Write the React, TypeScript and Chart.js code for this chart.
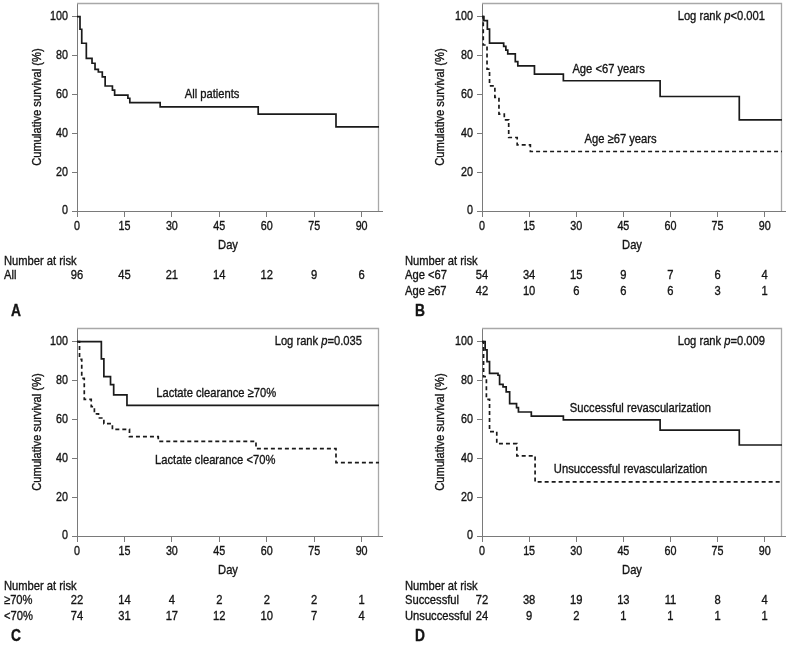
import React, { useEffect, useRef } from "react";
import { Chart, registerables } from "chart.js";

Chart.register(...registerables);

// ---------- data ----------
const xTicks = [0, 15, 30, 45, 60, 75, 90];
const yTicks = [0, 20, 40, 60, 80, 100];
const X_MAX = 95.5;
const Y_MAX = 107;

// Panel A: all patients
const allTimes = [0, 0.95, 1.5, 2.95, 4.75, 5.7, 6.75, 8.0, 8.9, 11.2, 11.9, 16.1, 16.7, 26.3, 57.3, 81.9, 96];
const allSurv = [100, 93.5, 86.3, 78.5, 76, 72.9, 71.5, 69, 64.3, 62.2, 59.6, 58, 55.7, 53.6, 49.8, 43.3, 43.3];

// Panel B: age
const ageLtTimes = [0, 0.6, 1.7, 2.4, 6.9, 7.6, 8.2, 10.6, 11.4, 16.7, 25.9, 56.7, 81.9, 96];
const ageLtSurv = [100, 97.9, 93.6, 86.4, 84.7, 82.8, 80.8, 76.8, 74.7, 70.4, 67, 58.9, 46.9, 46.9];
const ageGeTimes = [0, 0.4, 1.6, 2.4, 4.1, 5.4, 7.1, 8.5, 11.2, 15.4, 96];
const ageGeSurv = [100, 85.4, 73, 64.4, 58.4, 49.8, 46.9, 37.8, 34, 30.6, 30.6];

// Panel C: lactate clearance
const lacHiTimes = [0, 7.7, 8.5, 10.6, 11.6, 15.8, 96];
const lacHiSurv = [100, 91.1, 82, 77.9, 72.6, 67.2, 67.2];
const lacLoTimes = [0, 0.8, 1.5, 2.3, 4.5, 5.5, 6.8, 8.5, 11.2, 16.6, 25.7, 56.6, 81.9, 96];
const lacLoSurv = [100, 90.9, 81.1, 70.3, 66.6, 62.8, 60.7, 57.8, 54.9, 51.1, 48.7, 44.9, 37.7, 37.7];

// Panel D: revascularization
const revOkTimes = [0, 1.0, 1.6, 2.4, 5.1, 5.6, 6.7, 7.7, 8.8, 11.0, 11.6, 15.7, 25.9, 56.7, 81.9, 96];
const revOkSurv = [100, 95.7, 89.7, 83.7, 82.7, 78, 76.7, 74.1, 68.1, 66, 63.8, 61.7, 59.7, 54.5, 46.8, 46.8];
const revFailTimes = [0, 0.5, 1.4, 2.4, 4.7, 11.1, 16.9, 96];
const revFailSurv = [100, 82, 70.3, 53.7, 47.5, 41.2, 27.8, 27.8];

// Number at risk
const riskAll = [96, 45, 21, 14, 12, 9, 6];
const riskAgeLt = [54, 34, 15, 9, 7, 6, 4];
const riskAgeGe = [42, 10, 6, 6, 6, 3, 1];
const riskLacHi = [22, 14, 4, 2, 2, 2, 1];
const riskLacLo = [74, 31, 17, 12, 10, 7, 4];
const riskRevOk = [72, 38, 19, 13, 11, 8, 4];
const riskRevFail = [24, 9, 2, 1, 1, 1, 1];

// ---------- style / layout ----------
const FONT = '"Liberation Sans", Arial, sans-serif';
const SX = 0.86; // horizontal condensing to mimic a narrow typeface
const TEXT = "#141414";
const AXIS = "#7a7a7a";
const FRAME = "#a8a8a8";
const LINE = "#1a1a1a";
const W = 393;
const H = 321;
const PLOT_BOTTOM = 211;
const XLABEL_Y = 227;
const DAY_Y = 245;
const NAR_Y = 261;
const ROW_Y = [275, 291];
const LETTER_Y = 312;

type Curve = { times: number[]; surv: number[]; dashed: boolean };
type Note = { text: string; x: number; y: number };
type Row = { label: string; values: number[] };
type Panel = {
  id: string;
  left: number;
  top: number;
  plotLeft: number;
  plotRight: number;
  titleX: number;
  curves: Curve[];
  notes: Note[];
  logRank?: string;
  rows: Row[];
  rowLabelX: number;
  letter: string;
  letterX: number;
};

const panels: Panel[] = [
  {
    id: "A", left: 0, top: 0, plotLeft: 77, plotRight: 379, titleX: 37,
    curves: [{ times: allTimes, surv: allSurv, dashed: false }],
    notes: [{ text: "All patients", x: 42.7, y: 59.8 }],
    rows: [{ label: "All", values: riskAll }],
    rowLabelX: 4, letter: "A", letterX: 11,
  },
  {
    id: "B", left: 393, top: 0, plotLeft: 89, plotRight: 389, titleX: 47,
    curves: [
      { times: ageLtTimes, surv: ageLtSurv, dashed: false },
      { times: ageGeTimes, surv: ageGeSurv, dashed: true },
    ],
    notes: [
      { text: "Age <67 years", x: 40.3, y: 72.7 },
      { text: "Age \u226567 years", x: 44.1, y: 36.6 },
    ],
    logRank: "<0.001",
    rows: [
      { label: "Age <67", values: riskAgeLt },
      { label: "Age \u226567", values: riskAgeGe },
    ],
    rowLabelX: 12, letter: "B", letterX: 22,
  },
  {
    id: "C", left: 0, top: 325, plotLeft: 77, plotRight: 379, titleX: 37,
    curves: [
      { times: lacHiTimes, surv: lacHiSurv, dashed: false },
      { times: lacLoTimes, surv: lacLoSurv, dashed: true },
    ],
    notes: [
      { text: "Lactate clearance \u226570%", x: 44, y: 73.2 },
      { text: "Lactate clearance <70%", x: 43.7, y: 38.7 },
    ],
    logRank: "=0.035",
    rows: [
      { label: "\u226570%", values: riskLacHi },
      { label: "<70%", values: riskLacLo },
    ],
    rowLabelX: 4, letter: "C", letterX: 11,
  },
  {
    id: "D", left: 393, top: 325, plotLeft: 89, plotRight: 389, titleX: 47,
    curves: [
      { times: revOkTimes, surv: revOkSurv, dashed: false },
      { times: revFailTimes, surv: revFailSurv, dashed: true },
    ],
    notes: [
      { text: "Successful revascularization", x: 50.4, y: 65.5 },
      { text: "Unsuccessful revascularization", x: 47.3, y: 34 },
    ],
    logRank: "=0.009",
    rows: [
      { label: "Successful", values: riskRevOk },
      { label: "Unsuccessful", values: riskRevFail },
    ],
    rowLabelX: 12, letter: "D", letterX: 22,
  },
];

function txt(ctx: CanvasRenderingContext2D, s: string, x: number, y: number, align: CanvasTextAlign, font: string, rot = 0) {
  ctx.save();
  ctx.font = font;
  ctx.textAlign = align;
  ctx.textBaseline = "middle";
  ctx.translate(x, y);
  if (rot) ctx.rotate(rot);
  ctx.scale(SX, 1);
  ctx.fillText(s, 0, 0);
  ctx.lineWidth = 0.35;
  ctx.strokeStyle = TEXT;
  ctx.strokeText(s, 0, 0);
  ctx.restore();
}

function makeExtras(p: Panel) {
  return {
    id: "kmExtras" + p.id,
    beforeDatasetsDraw(chart: any) {
      const { ctx, chartArea: a } = chart;
      ctx.save();
      ctx.strokeStyle = FRAME;
      ctx.lineWidth = 1.3;
      ctx.beginPath();
      ctx.moveTo(a.left, a.top + 0.5);
      ctx.lineTo(a.right - 0.5, a.top + 0.5);
      ctx.lineTo(a.right - 0.5, a.bottom);
      ctx.stroke();
      ctx.strokeStyle = AXIS;
      ctx.lineWidth = 1;
      ctx.beginPath();
      ctx.moveTo(a.right - 1, a.bottom + 0.5);
      ctx.lineTo(a.right + 4, a.bottom + 0.5);
      ctx.stroke();
      ctx.restore();
    },
    afterDraw(chart: any) {
      const { ctx, chartArea: a } = chart;
      const xs = chart.scales.x;
      const ys = chart.scales.y;
      const f13 = `13px ${FONT}`;
      const f12 = `12.5px ${FONT}`;
      ctx.save();
      ctx.fillStyle = TEXT;

      // tick labels from the library's ticks
      xs.ticks.forEach((t: any) => txt(ctx, String(t.value), xs.getPixelForValue(t.value), XLABEL_Y, "center", f12));
      ys.ticks.forEach((t: any) => txt(ctx, String(t.value), a.left - 9, ys.getPixelForValue(t.value), "right", f12));

      // axis titles
      txt(ctx, "Cumulative survival (%)", p.titleX, (a.top + a.bottom) / 2, "center", f13, -Math.PI / 2);
      txt(ctx, "Day", (a.left + a.right) / 2, DAY_Y, "center", f13);

      // curve labels
      p.notes.forEach((n) => txt(ctx, n.text, xs.getPixelForValue(n.x), ys.getPixelForValue(n.y), "center", f13));

      // log rank
      if (p.logRank) {
        const italic = `italic 13px ${FONT}`;
        const parts: [string, string][] = [
          ["Log rank ", f13],
          ["p", italic],
          [p.logRank, f13],
        ];
        let total = 0;
        parts.forEach(([t, f]) => { ctx.font = f; total += ctx.measureText(t).width * SX; });
        let cx = a.right - 17 - total;
        const cy = ys.getPixelForValue(100);
        parts.forEach(([t, f]) => {
          txt(ctx, t, cx, cy, "left", f);
          ctx.font = f;
          cx += ctx.measureText(t).width * SX;
        });
      }

      // number at risk table
      txt(ctx, "Number at risk", p.rowLabelX, NAR_Y, "left", f13);
      p.rows.forEach((r, i) => {
        const yy = ROW_Y[i];
        txt(ctx, r.label, p.rowLabelX, yy, "left", f13);
        r.values.forEach((v, j) => txt(ctx, String(v), xs.getPixelForValue(xTicks[j]), yy, "center", f13));
      });

      // panel letter
      txt(ctx, p.letter, p.letterX, LETTER_Y, "left", `bold 16px ${FONT}`);
      ctx.restore();
    },
  };
}

function KMPanel({ p }: { p: Panel }) {
  const ref = useRef<HTMLCanvasElement | null>(null);
  useEffect(() => {
    if (!ref.current) return;
    const zeroPad = (s: any) => {
      s.paddingLeft = 0;
      s.paddingRight = 0;
      s.paddingTop = 0;
      s.paddingBottom = 0;
    };
    const chart = new Chart(ref.current, {
      type: "line",
      data: {
        datasets: p.curves.map((c) => ({
          data: c.times.map((t, i) => ({ x: t, y: c.surv[i] })),
          borderColor: LINE,
          borderWidth: 1.7,
          borderDash: c.dashed ? [4, 3] : [],
          borderCapStyle: "butt",
          borderJoinStyle: "miter",
          pointRadius: 0,
          pointHoverRadius: 0,
          stepped: "before",
          fill: false,
          tension: 0,
        })) as any,
      },
      options: {
        animation: false,
        responsive: false,
        events: [],
        layout: { padding: { left: 0, top: 3, right: W - p.plotRight, bottom: 0 } },
        plugins: { legend: { display: false }, tooltip: { enabled: false } },
        scales: {
          x: {
            type: "linear",
            min: 0,
            max: X_MAX,
            afterBuildTicks: (s: any) => { s.ticks = xTicks.map((v) => ({ value: v })); },
            afterFit: (s: any) => { s.height = H - PLOT_BOTTOM; zeroPad(s); },
            grid: { drawOnChartArea: false, drawTicks: true, tickLength: 6, color: AXIS, lineWidth: 1 },
            border: { display: true, color: AXIS, width: 1 },
            ticks: { display: false, autoSkip: false },
          },
          y: {
            type: "linear",
            min: 0,
            max: Y_MAX,
            afterBuildTicks: (s: any) => { s.ticks = yTicks.map((v) => ({ value: v })); },
            afterFit: (s: any) => { s.width = p.plotLeft; zeroPad(s); },
            grid: { drawOnChartArea: false, drawTicks: true, tickLength: 5, color: AXIS, lineWidth: 1 },
            border: { display: true, color: AXIS, width: 1 },
            ticks: { display: false, autoSkip: false },
          },
        },
      } as any,
      plugins: [makeExtras(p)],
    });
    return () => chart.destroy();
  }, [p]);
  return (
    <div style={{ position: "absolute", left: p.left, top: p.top, width: W, height: H }}>
      <canvas ref={ref} width={W} height={H} style={{ width: W, height: H, display: "block" }} />
    </div>
  );
}

export default function App() {
  return (
    <div style={{ position: "absolute", left: 0, top: 0, width: 786, height: 646, background: "#fff", overflow: "hidden" }}>
      {panels.map((p) => (
        <KMPanel key={p.id} p={p} />
      ))}
    </div>
  );
}
